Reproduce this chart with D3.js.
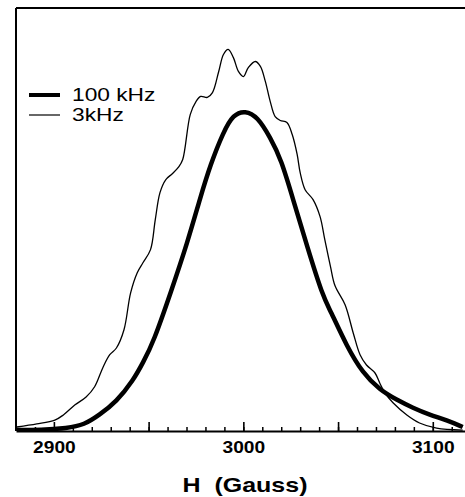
<!DOCTYPE html>
<html>
<head>
<meta charset="utf-8">
<script src="https://cdn.jsdelivr.net/npm/d3@7"></script>
<style>
  body { margin: 0; background: #fff; }
  text { font-family: "Liberation Sans", Arial, sans-serif; }
</style>
</head>
<body>
<div id="chart"></div>
<script>
// Field values (Gauss) and intensities
var field3k = [2880.5, 2891, 2900.5, 2905, 2911, 2917, 2921.5, 2926, 2929.5, 2933, 2937, 2940.5, 2944, 2947, 2951,
    2953.5, 2956, 2959, 2962.5, 2966, 2968, 2972, 2975, 2977.5, 2981, 2983.7, 2987, 2989.5, 2992, 2994.7,
    2997.4, 3000, 3002.6, 3006.3, 3009, 3011.6, 3014.2, 3016.8, 3019.5, 3023, 3025.8, 3028.4, 3030, 3032.6,
    3036.8, 3040.5, 3043, 3046, 3048.4, 3053.7, 3058, 3061.6, 3065, 3069.5, 3072, 3074.7, 3079, 3086.3,
    3093, 3102, 3115.8];
var signal3k = [1.25, 2.2, 3.4, 5.0, 8.1, 10.6, 13.8, 20, 23.8, 25.9, 31.6, 43.1, 49.4, 52.5, 56.6,
    65.9, 74.4, 78.4, 80.3, 82.5, 84.7, 98.8, 102.8, 104.4, 104.1, 105.6, 112.2, 117.5, 119.1, 116.6,
    112.2, 110.6, 113.4, 115.3, 113.8, 109.1, 102.8, 98.1, 96.9, 96.3, 92.5, 86.3, 80.6, 75.3,
    72.2, 66.9, 59.7, 51.3, 45.3, 39.4, 30.6, 23.8, 20.6, 18.1, 15, 11.9, 8.8, 5.0,
    2.5, 0.9, 0.3];

var field100k = [2880.5, 2893, 2907, 2916, 2924, 2933, 2942, 2947, 2952.6, 2961.6, 2970.5, 2977.4, 2982.6,
    2989.5, 2994.7, 3001, 3007.4, 3014.2, 3020, 3026.3, 3033.7, 3042, 3045.8, 3054.7, 3063, 3072,
    3081, 3089.5, 3098.4, 3107.4, 3115.8];
var signal100k = [0.3, 0.3, 0.9, 1.9, 5.0, 9.1, 15.9, 21.3, 27.8, 43.1, 58.8, 73.1, 83.1,
    93.4, 98.8, 100, 98.1, 91.6, 84.7, 72.2, 57.5, 41.9, 37.8, 26.3, 18.1, 12.8,
    9.7, 7.2, 5.0, 3.4, 1.25];

var xLabels = [2900, 3000, 3100];
var legendLabels = ["100 kHz", "3kHz"];

function init() {
    var w = 465, h = 497;
    var left = 16, right = 465, top = 8, bottom = 431;

    var svg = d3.select("#chart").append("svg")
        .attr("width", w)
        .attr("height", h);

    var xScale = d3.scaleLinear().domain([2880, 3117]).range([left, right]);
    var yScale = d3.scaleLinear().domain([0, 132]).range([bottom, top]);

    svg.append("clipPath").attr("id", "plot")
        .append("rect")
        .attr("x", left).attr("y", top)
        .attr("width", right - left).attr("height", bottom - top);

    var line = d3.line()
        .x(function(d) { return xScale(d[0]); })
        .y(function(d) { return yScale(d[1]); })
        .curve(d3.curveCatmullRom);

    // the thick trace is smooth, so a basis curve suits it better
    var smooth = d3.line()
        .x(function(d) { return xScale(d[0]); })
        .y(function(d) { return yScale(d[1]); })
        .curve(d3.curveBasis);

    var thin = d3.zip(field3k, signal3k);
    var thick = d3.zip(field100k, signal100k);

    var g = svg.append("g").attr("clip-path", "url(#plot)");
    g.append("path").datum(thin)
        .attr("d", line).attr("fill", "none")
        .attr("stroke", "#000").attr("stroke-width", 1.3);
    g.append("path").datum(thick)
        .attr("d", smooth).attr("fill", "none")
        .attr("stroke", "#000").attr("stroke-width", 4.5);

    // minor ticks every 10 G
    var minor = d3.axisBottom(xScale)
        .tickValues(d3.range(2890, 3111, 10))
        .tickSize(-4).tickSizeOuter(0).tickFormat("");
    svg.append("g")
        .attr("transform", "translate(0," + bottom + ")")
        .call(minor)
        .call(function(a) { a.select(".domain").remove(); })
        .selectAll("line").attr("stroke-width", 1.5);

    // major ticks with labels
    var major = d3.axisBottom(xScale)
        .tickValues([2900, 2950, 3000, 3050, 3100])
        .tickSize(-9).tickSizeOuter(0).tickPadding(10)
        .tickFormat(function(d) { return xLabels.indexOf(d) >= 0 ? d : ""; });
    var xAx = svg.append("g")
        .attr("transform", "translate(0," + bottom + ")")
        .call(major);
    xAx.select(".domain").attr("stroke-width", 2.2);
    xAx.selectAll("line").attr("stroke-width", 1.6);
    xAx.selectAll("text")
        .attr("font-family", "Liberation Sans, Arial, sans-serif")
        .attr("font-size", 17)
        .attr("font-weight", "bold")
        .attr("fill", "#000")
        .attr("transform", "scale(1.13,1)");

    // left and top frame lines
    svg.append("line")
        .attr("x1", left).attr("x2", left)
        .attr("y1", top).attr("y2", bottom)
        .attr("stroke", "#000").attr("stroke-width", 2);
    svg.append("line")
        .attr("x1", left).attr("x2", right)
        .attr("y1", top).attr("y2", top)
        .attr("stroke", "#000").attr("stroke-width", 2);

    // axis title
    svg.append("text")
        .attr("transform", "translate(245,492) scale(1.19,1)")
        .attr("text-anchor", "middle")
        .attr("font-size", 21)
        .attr("font-weight", "bold")
        .style("white-space", "pre")
        .text("H  (Gauss)");

    // legend
    var legend = svg.append("g");
    var widths = [4, 1.2];
    var ys = [95, 115];
    var base = [101, 121];
    legendLabels.forEach(function(lab, i) {
        legend.append("line")
            .attr("x1", 29).attr("x2", 60)
            .attr("y1", ys[i]).attr("y2", ys[i])
            .attr("stroke", "#000").attr("stroke-width", widths[i]);
        legend.append("text")
            .attr("transform", "translate(72," + base[i] + ") scale(1.3,1)")
            .attr("font-size", 17.5)
            .text(lab);
    });
}

window.onload = init;
</script>
</body>
</html>
